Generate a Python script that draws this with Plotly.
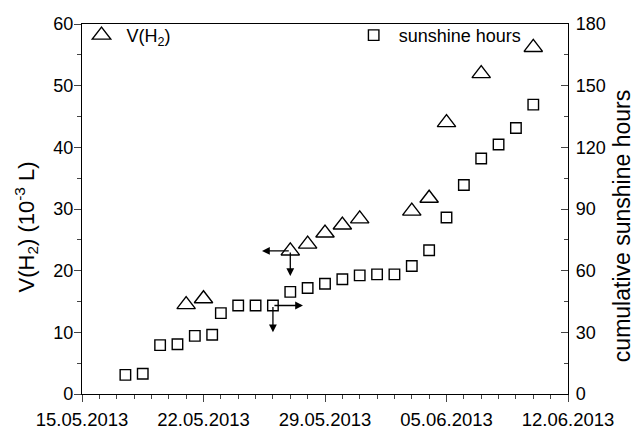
import plotly.graph_objects as go
import pandas as pd

# ---- data ----
h2_dates = ['2013-05-21', '2013-05-22', '2013-05-27', '2013-05-28', '2013-05-29',
            '2013-05-30', '2013-05-31', '2013-06-03', '2013-06-04', '2013-06-05',
            '2013-06-07', '2013-06-10']
h2_volume = [14.5, 15.45, 23.2, 24.3, 26.1, 27.4, 28.4, 29.65, 31.75, 44.0, 51.95, 56.2]

sun_dates = ['2013-05-17 12:00', '2013-05-18 12:00', '2013-05-19 12:00', '2013-05-20 12:00',
             '2013-05-21 12:00', '2013-05-22 12:00', '2013-05-23', '2013-05-24',
             '2013-05-25', '2013-05-26', '2013-05-27', '2013-05-28', '2013-05-29',
             '2013-05-30', '2013-05-31', '2013-06-01', '2013-06-02', '2013-06-03',
             '2013-06-04', '2013-06-05', '2013-06-06', '2013-06-07', '2013-06-08',
             '2013-06-09', '2013-06-10']
sun_hours = [9.3, 9.85, 23.8, 24.2, 28.3, 28.8, 39.35, 43.05, 43.05, 43.05, 49.7, 51.6,
             53.6, 55.8, 57.7, 58.2, 58.2, 62.3, 69.9, 85.9, 101.7, 114.6, 121.4, 129.4, 140.8]

x_range = ['2013-05-15', '2013-06-12']
left_title = 'V(H<sub>2</sub>) (10<sup>-3</sup> L)'
right_title = 'cumulative sunshine hours'

FONT = 'Liberation Sans, Arial, sans-serif'
DAY = 86400000

fig = go.Figure()
fig.add_trace(go.Scatter(
    x=h2_dates, y=h2_volume, mode='markers', name='\u00a0V(H<sub>2</sub>)',
    marker=dict(symbol='triangle-up-open', size=16, color='black', line=dict(width=1.4, color='black')),
    legend='legend', yaxis='y'))
fig.add_trace(go.Scatter(
    x=sun_dates, y=sun_hours, mode='markers', name='\u00a0sunshine hours',
    marker=dict(symbol='square-open', size=10.5, color='black', line=dict(width=1.4, color='black')),
    legend='legend2', yaxis='y2'))

# arrows indicating which axis each series belongs to
tri_x = pd.Timestamp(h2_dates[2]); tri_y = h2_volume[2]
sq_x = pd.Timestamp(sun_dates[9]); sq_y = sun_hours[9]
arrow_style = dict(showarrow=True, arrowhead=2, arrowsize=1.2, arrowwidth=1.3, arrowcolor='black', text='')
annotations = [
    dict(x=tri_x - pd.Timedelta(days=1.63), y=tri_y, ax=tri_x, ay=tri_y,
         xref='x', yref='y', axref='x', ayref='y', **arrow_style),
    dict(x=tri_x, y=tri_y - 4.07, ax=tri_x, ay=tri_y,
         xref='x', yref='y', axref='x', ayref='y', **arrow_style),
    dict(x=sq_x + pd.Timedelta(days=1.73), y=sq_y, ax=sq_x, ay=sq_y,
         xref='x', yref='y2', axref='x', ayref='y2', **arrow_style),
    dict(x=sq_x, y=sq_y - 13, ax=sq_x, ay=sq_y,
         xref='x', yref='y2', axref='x', ayref='y2', **arrow_style),
    # axis titles
    dict(text=left_title, textangle=-90, showarrow=False, xref='paper', yref='paper',
         x=-0.1152, y=0.45, xanchor='center', yanchor='middle', font=dict(size=22, family=FONT)),
    dict(text=right_title, textangle=-90, showarrow=False, xref='paper', yref='paper',
         x=1.1111, y=0.4537, xanchor='center', yanchor='middle', font=dict(size=23, family=FONT)),
]

fig.update_layout(
    width=636, height=442,
    margin=dict(l=82, r=68, t=24, b=29),
    paper_bgcolor='white', plot_bgcolor='white',
    font=dict(family=FONT, color='black', size=18),
    showlegend=True,
    legend=dict(x=-0.001, y=0.969, xanchor='left', yanchor='middle', bgcolor='rgba(0,0,0,0)',
                font=dict(size=18, family=FONT), borderwidth=0),
    legend2=dict(x=0.559, y=0.969, xanchor='left', yanchor='middle', bgcolor='rgba(0,0,0,0)',
                 font=dict(size=18, family=FONT), borderwidth=0),
    xaxis=dict(type='date', range=x_range, tick0='2013-05-15', dtick=7 * DAY,
               tickformat='%d.%m.%Y', ticks='outside', ticklen=7, tickwidth=1.3,
               showline=True, linewidth=1.3, linecolor='black', mirror=True,
               showgrid=False, zeroline=False, tickfont=dict(size=18.5),
               ticklabelstandoff=2,
               minor=dict(dtick=DAY, tick0='2013-05-15', ticks='outside', ticklen=4,
                          tickwidth=1.2, showgrid=False)),
    yaxis=dict(range=[0, 60], dtick=10, ticks='outside', ticklen=7, tickwidth=1.3,
               showline=True, linewidth=1.3, linecolor='black', showgrid=False,
               zeroline=False, tickfont=dict(size=18), ticklabelstandoff=-3,
               minor=dict(dtick=5, ticks='outside', ticklen=4, tickwidth=1.2, showgrid=False)),
    yaxis2=dict(range=[0, 180], dtick=30, overlaying='y', side='right',
                ticks='inside', ticklen=7, tickwidth=1.3,
                showline=True, linewidth=1.3, linecolor='black', showgrid=False,
                zeroline=False, tickfont=dict(size=18), ticklabelstandoff=3,
                minor=dict(dtick=15, ticks='inside', ticklen=4, tickwidth=1.2, showgrid=False)),
    annotations=annotations,
)

fig.write_html('out.html')
